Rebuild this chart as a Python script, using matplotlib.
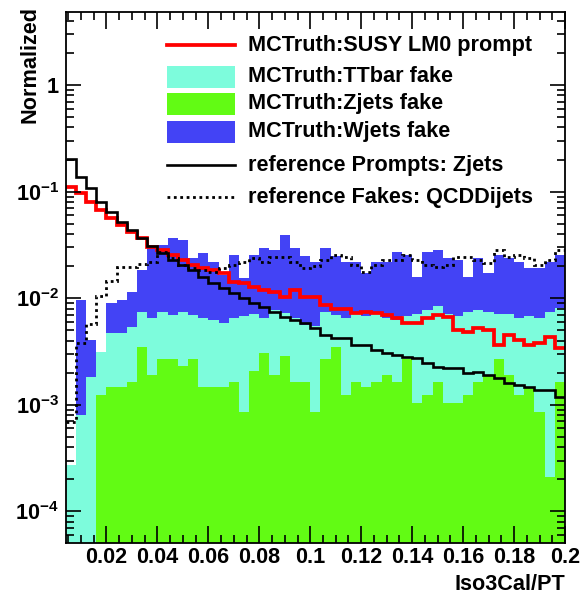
import numpy as np
import matplotlib
matplotlib.use("Agg")
import matplotlib.pyplot as plt
from matplotlib.ticker import LogLocator, MultipleLocator, FuncFormatter, NullFormatter
from matplotlib.patches import Rectangle
from matplotlib.lines import Line2D

plt.rcParams["font.family"] = ["Liberation Sans", "DejaVu Sans"]
plt.rcParams["font.weight"] = "bold"
plt.rcParams["mathtext.fontset"] = "custom"
plt.rcParams["mathtext.rm"] = "Liberation Sans:bold"
plt.rcParams["mathtext.bf"] = "Liberation Sans:bold"
plt.rcParams["mathtext.default"] = "bf"

# ---- binning of Iso3Cal/PT ----
bin_lo, bin_hi, n_bins = 0.004, 0.2, 49

# ---- normalized distributions (one value per bin) ----
wjets_fake = [0, 0.0096, 0.00405, 0, 0.0090, 0.0096, 0.0114, 0.0184, 0.0296, 0.0316,
              0.0367, 0.0352, 0.0238, 0.0266, 0.0219, 0.0165, 0.0254, 0.0155, 0.0254, 0.0296,
              0.0283, 0.0392, 0.0296, 0.0249, 0.0219, 0.0296, 0.0249, 0.0219, 0.0219, 0.0172,
              0.0219, 0.0219, 0.0271, 0.0254, 0.0158, 0.0271, 0.0283, 0.0238, 0.0228, 0.0158,
              0.0238, 0.0172, 0.0254, 0.0238, 0.0219, 0.0192, 0.0192, 0.0219, 0.0254]

ttbar_fake = [2.7e-4, 8.0e-4, 1.82e-3, 3.13e-3, 4.7e-3, 4.7e-3, 5.4e-3, 7.4e-3, 6.5e-3, 7.4e-3,
              6.95e-3, 7.4e-3, 6.95e-3, 6.5e-3, 6.2e-3, 5.85e-3, 6.5e-3, 6.8e-3, 7.1e-3, 6.5e-3,
              7.75e-3, 7.3e-3, 6.5e-3, 5.6e-3, 5.5e-3, 7.4e-3, 6.95e-3, 6.5e-3, 7.4e-3, 6.8e-3,
              7.1e-3, 6.5e-3, 6.2e-3, 6.8e-3, 7.1e-3, 7.75e-3, 8.45e-3, 7.1e-3, 6.8e-3, 7.4e-3,
              7.75e-3, 7.4e-3, 7.1e-3, 7.1e-3, 6.5e-3, 6.8e-3, 6.5e-3, 7.4e-3, 8.1e-3]

zjets_fake = [0, 0, 0, 1.24e-3, 1.46e-3, 1.46e-3, 1.65e-3, 3.5e-3, 1.9e-3, 2.67e-3,
              2.67e-3, 2.31e-3, 2.67e-3, 1.46e-3, 1.46e-3, 1.46e-3, 1.65e-3, 8.6e-4, 2.09e-3, 3.04e-3,
              1.9e-3, 2.87e-3, 1.65e-3, 1.65e-3, 8.6e-4, 2.67e-3, 3.5e-3, 1.24e-3, 1.65e-3, 1.46e-3,
              1.65e-3, 1.9e-3, 1.65e-3, 2.67e-3, 1.03e-3, 1.24e-3, 1.65e-3, 1.03e-3, 1.03e-3, 1.24e-3,
              1.65e-3, 1.9e-3, 2.67e-3, 1.9e-3, 1.24e-3, 1.46e-3, 8.6e-4, 2.1e-4, 1.65e-3]

susy_lm0_prompt = [0.111, 0.0964, 0.0804, 0.0672, 0.0562, 0.0486, 0.0421, 0.0365, 0.0304, 0.0283,
                   0.0254, 0.0228, 0.0205, 0.0191, 0.0184, 0.0171, 0.0143, 0.0138, 0.0128, 0.0119,
                   0.0115, 0.0103, 0.0119, 0.0103, 0.0103, 0.00863, 0.00787, 0.00787, 0.00722, 0.00747,
                   0.00722, 0.00696, 0.00648, 0.00582, 0.00582, 0.00648, 0.00696, 0.00671, 0.00503, 0.00485,
                   0.00522, 0.00503, 0.00364, 0.00452, 0.00405, 0.00364, 0.00378, 0.00435, 0.00339]

ref_prompts_zjets = [0.202, 0.137, 0.108, 0.0798, 0.0644, 0.0519, 0.0436, 0.0367, 0.0309, 0.0266,
                     0.0228, 0.0205, 0.0184, 0.0159, 0.0139, 0.0125, 0.0112, 0.01005, 0.00902, 0.00827,
                     0.00743, 0.00667, 0.00624, 0.00585, 0.00525, 0.00452, 0.00424, 0.00424, 0.00364, 0.00364,
                     0.00327, 0.00306, 0.00293, 0.00281, 0.00275, 0.00247, 0.00226, 0.00221, 0.00221, 0.00199,
                     0.00203, 0.00190, 0.00178, 0.00160, 0.00153, 0.00147, 0.00138, 0.00138, 0.00118]

ref_fakes_qcd = [6.9e-4, 0.00380, 0.00573, 0.0105, 0.0145, 0.0196, 0.0196, 0.0209, 0.0219, 0.0271,
                 0.0238, 0.0205, 0.0192, 0.0184, 0.0176, 0.0192, 0.0205, 0.0219, 0.0238, 0.0219,
                 0.0243, 0.0243, 0.0219, 0.0192, 0.0200, 0.0228, 0.0254, 0.0243, 0.0205, 0.0176,
                 0.0205, 0.0228, 0.0228, 0.0254, 0.0228, 0.0205, 0.0196, 0.0205, 0.0243, 0.0243,
                 0.0228, 0.0214, 0.0283, 0.0243, 0.0254, 0.0238, 0.0205, 0.0228, 0.0283]

x_ticks = [0.02, 0.04, 0.06, 0.08, 0.1, 0.12, 0.14, 0.16, 0.18, 0.2]
x_tick_labels = ["0.02", "0.04", "0.06", "0.08", "0.1", "0.12", "0.14", "0.16", "0.18", "0.2"]

labels = ["MCTruth:SUSY LM0 prompt", "MCTruth:TTbar fake", "MCTruth:Zjets fake",
          "MCTruth:Wjets fake", "reference Prompts: Zjets", "reference Fakes: QCDDijets"]

# ---- styles ----
C_TEAL = "#7dfcdc"
C_GREEN = "#62fb14"
C_BLUE = "#4343f5"
C_RED = "#ff0000"
FS = 15.6
DOTTED = (0, (1.0, 1.3))

W, H = 581, 599
fig = plt.figure(figsize=(W / 100, H / 100), dpi=100)
ax_l, ax_r, ax_t, ax_b = 65.7, 565.0, 12.0, 543.0
ax = fig.add_axes([ax_l / W, 1 - ax_b / H, (ax_r - ax_l) / W, (ax_b - ax_t) / H])

edges = np.linspace(bin_lo, bin_hi, n_bins + 1)
floor = 1e-7


def filled(vals, color):
    v = np.asarray(vals, dtype=float)
    v = np.where(v > 0, v, floor * 1e-2)
    ax.stairs(v, edges, fill=True, baseline=floor, color=color, lw=0)


# filled histograms, drawn over one another
filled(wjets_fake, C_BLUE)
filled(ttbar_fake, C_TEAL)
filled(zjets_fake, C_GREEN)

# line histograms
ax.stairs(susy_lm0_prompt, edges, baseline=None, color=C_RED, lw=2.7)
ax.stairs(ref_prompts_zjets, edges, baseline=None, color="black", lw=1.9)
ax.stairs(ref_fakes_qcd, edges, baseline=None, color="black", lw=2.0, linestyle=DOTTED)

ax.set_yscale("log")
ax.set_xlim(bin_lo, bin_hi)
ax.set_ylim(5.06e-5, 4.84)

# axes and ticks
for s in ax.spines.values():
    s.set_linewidth(1.3)
ax.set_xticks(x_ticks)
ax.set_xticklabels(x_tick_labels)
ax.xaxis.set_minor_locator(MultipleLocator(0.005))
ax.yaxis.set_major_locator(LogLocator(base=10, numticks=20))
ax.yaxis.set_minor_locator(LogLocator(base=10, subs=np.arange(2, 10), numticks=20))
ax.yaxis.set_minor_formatter(NullFormatter())


def ylab(v, _):
    e = int(round(np.log10(v)))
    return "1" if e == 0 else r"$10^{%d}$" % e


ax.yaxis.set_major_formatter(FuncFormatter(ylab))
ax.tick_params(which="both", direction="in", top=True, right=True, width=1.2,
               labelsize=FS)
ax.tick_params(axis="x", which="major", length=12, pad=3)
ax.tick_params(axis="x", which="minor", length=6)
ax.tick_params(axis="y", which="major", length=10.8, pad=5)
ax.tick_params(axis="y", which="minor", length=5.8)
for t in ax.get_xticklabels() + ax.get_yticklabels():
    t.set_fontweight("bold")

fig.text(30 / W, 1 - 6 / H, "Normalized", rotation=90, ha="center", va="top",
         fontsize=FS, fontweight="bold")
fig.text(ax_r / W, 1 - 585 / H, "Iso3Cal/PT", ha="right", va="center",
         fontsize=FS, fontweight="bold")


# legend entries, placed in figure pixels
def px(x, y):
    return x / W, 1 - y / H


rows_y = [45, 77, 104, 132, 165, 197]
sym_x0, sym_x1, text_x = 167, 235, 248
box_h = 22
kinds = [("line", C_RED, "-", 2.7), ("box", C_TEAL), ("box", C_GREEN), ("box", C_BLUE),
         ("line", "black", "-", 1.9), ("line", "black", DOTTED, 2.0)]
for yv, lab, k in zip(rows_y, labels, kinds):
    if k[0] == "line":
        fig.add_artist(Line2D([sym_x0 / W, sym_x1 / W], [1 - yv / H, 1 - yv / H],
                              color=k[1], linestyle=k[2], lw=k[3], transform=fig.transFigure))
    else:
        x0, y0 = px(sym_x0, yv + box_h / 2)
        fig.add_artist(Rectangle((x0, y0), (sym_x1 - sym_x0) / W, box_h / H,
                                 color=k[1], lw=0, transform=fig.transFigure))
    fig.text(*px(text_x, yv), lab, ha="left", va="center", fontsize=FS, fontweight="bold")

fig.savefig("out.png", dpi=100, facecolor="white")
